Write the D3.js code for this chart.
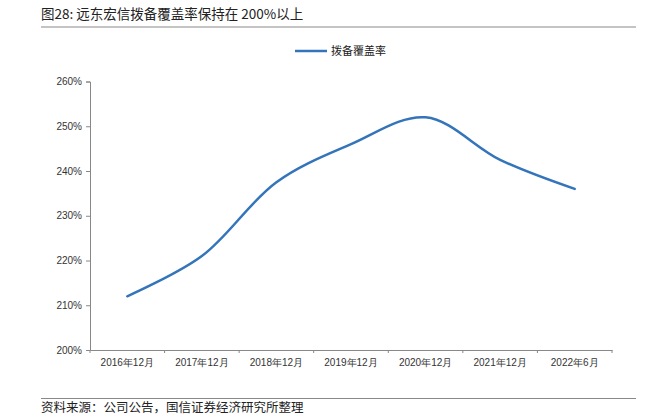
<!DOCTYPE html>
<html>
<head>
<meta charset="utf-8">
<script src="https://cdn.jsdelivr.net/npm/d3@7"></script>
<style>
  body { margin: 0; background: #fff; }
  svg { display: block; font-family: "Noto Sans CJK SC", "Noto Sans", sans-serif; }
</style>
</head>
<body>
<svg id="chart" width="651" height="417"></svg>
<script>
const categories = ["2016年12月", "2017年12月", "2018年12月", "2019年12月", "2020年12月", "2021年12月", "2022年6月"];
const coverage = [212, 221, 237.5, 246, 252, 242.5, 236];
const yTicks = [200, 210, 220, 230, 240, 250, 260];
const seriesName = "拨备覆盖率";
const titleText = "图28: 远东宏信拨备覆盖率保持在 200%以上";
const sourceText = "资料来源：公司公告，国信证券经济研究所整理";

(function () {
const svg = d3.select("#chart");
const mLeft = 90, mRight = 612, mTop = 81.5, mBottom = 350;

// Title and rules
svg.append("text").attr("x", 41).attr("y", 19).attr("font-size", 13.5).attr("fill", "#222").text(titleText);
svg.append("line").attr("x1", 41).attr("x2", 636).attr("y1", 27).attr("y2", 27).attr("stroke", "#888").attr("stroke-width", 1);
svg.append("line").attr("x1", 41).attr("x2", 636).attr("y1", 398.5).attr("y2", 398.5).attr("stroke", "#888").attr("stroke-width", 1);
svg.append("text").attr("x", 41).attr("y", 412).attr("font-size", 12.5).attr("fill", "#222").text(sourceText);

const x = d3.scaleBand().domain(categories).range([mLeft, mRight]).paddingInner(0).paddingOuter(0);
const y = d3.scaleLinear().domain([200, 260]).range([mBottom, mTop]);

// Y axis
const yAxis = svg.append("g").attr("transform", `translate(${mLeft},0)`)
  .call(d3.axisLeft(y).tickValues(yTicks).tickSize(4).tickFormat(d => d + "%"));
yAxis.select(".domain").attr("stroke", "#888");
yAxis.selectAll(".tick line").attr("stroke", "#888");
yAxis.selectAll(".tick text").attr("font-size", 10).attr("fill", "#333").attr("x", -8)
  .attr("font-family", "Liberation Sans, Arial, sans-serif");

// X axis
const xAxis = svg.append("g").attr("transform", `translate(0,${mBottom})`)
  .call(d3.axisBottom(x).tickSize(0).tickSizeOuter(0));
xAxis.select(".domain").attr("stroke", "#888");
xAxis.selectAll(".tick text").attr("font-size", 10).attr("fill", "#333").attr("dy", "1.25em");
const bounds = categories.map(c => x(c)).concat([x(categories[categories.length - 1]) + x.bandwidth()]);
svg.append("g").selectAll("line").data(bounds).join("line")
  .attr("x1", d => d).attr("x2", d => d).attr("y1", mBottom).attr("y2", mBottom + 3)
  .attr("stroke", "#888");

// Line
const line = d3.line()
  .x((d, i) => x(categories[i]) + x.bandwidth() / 2)
  .y(d => y(d))
  .curve(d3.curveCatmullRom.alpha(0.5));
svg.append("path").datum(coverage).attr("d", line)
  .attr("fill", "none").attr("stroke", "#3474BA").attr("stroke-width", 2.5).attr("stroke-linecap", "round");

// Legend
svg.append("line").attr("x1", 295).attr("x2", 327).attr("y1", 51).attr("y2", 51)
  .attr("stroke", "#3474BA").attr("stroke-width", 2.5);
svg.append("text").attr("x", 331).attr("y", 55).attr("font-size", 11).attr("fill", "#222").text(seriesName);
})();
</script>
</body>
</html>
